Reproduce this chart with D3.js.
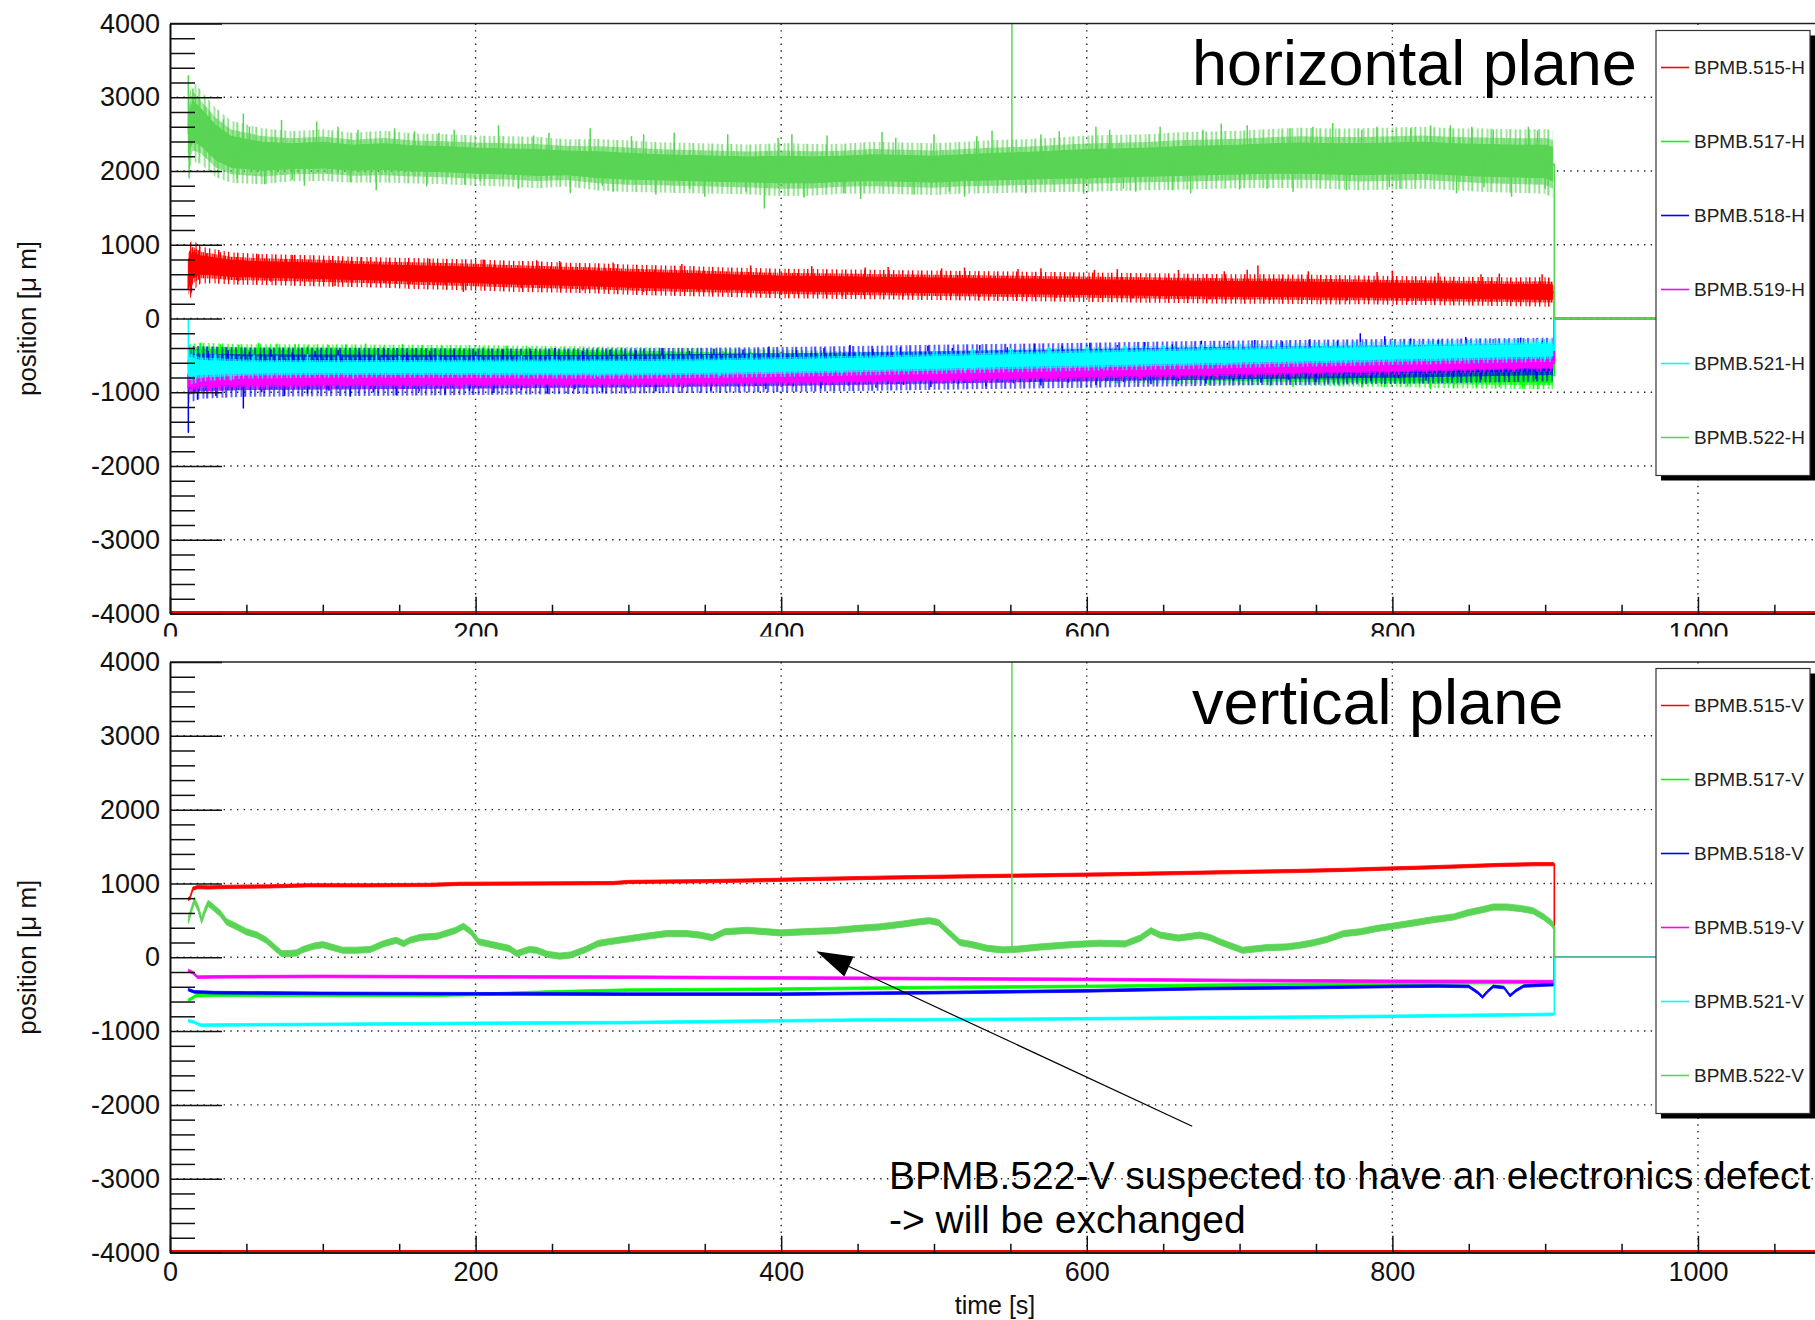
<!DOCTYPE html>
<html>
<head>
<meta charset="utf-8">
<script src="https://cdn.jsdelivr.net/npm/d3@7"></script>
<style>
  body { margin: 0; background: #fff; }
  svg { display: block; }
  text { font-family: "Liberation Sans", Arial, Helvetica, sans-serif; }
</style>
</head>
<body>
<svg id="chart" width="1815" height="1320"></svg>
<script>
// ---------------- labels ----------------
const namesH = ["BPMB.515-H", "BPMB.517-H", "BPMB.518-H", "BPMB.519-H", "BPMB.521-H", "BPMB.522-H"];
const namesV = ["BPMB.515-V", "BPMB.517-V", "BPMB.518-V", "BPMB.519-V", "BPMB.521-V", "BPMB.522-V"];
const colors = ["#ff0000", "#00ff00", "#0000ff", "#ff00ff", "#00ffff", "#59d454"];
const yTickValues = [4000, 3000, 2000, 1000, 0, -1000, -2000, -3000, -4000];
const yGridValues = [3000, 2000, 1000, 0, -1000, -2000, -3000];
const xTickValues = [0, 200, 400, 600, 800, 1000];
const xGridValues = [200, 400, 600, 800, 1000];

// all monitors fall back to 0 when the run stops
const stopTime = 906;
const tailTime = 1100;

// ---------------- horizontal plane (noisy: band envelopes + excursions) ----------------
const tH = [12, 15, 20, 30, 40, 60, 80, 100, 120, 140, 160, 180, 200, 220, 240, 260, 280, 300, 320, 340,
  360, 380, 400, 420, 440, 460, 480, 500, 520, 540, 560, 580, 600, 620, 640, 660, 680, 700, 720, 740,
  760, 780, 800, 820, 840, 860, 880, 900, 905];

const h515lo = [400, 550, 600, 590, 570, 560, 550, 540, 530, 520, 505, 495, 485, 470, 460, 450, 440, 425, 415, 405,
  395, 385, 375, 370, 365, 360, 355, 350, 345, 340, 335, 330, 325, 320, 315, 310, 305, 300, 300, 295,
  290, 290, 285, 280, 275, 270, 265, 260, 260];
const h515hi = [800, 900, 850, 820, 790, 770, 760, 750, 735, 725, 715, 705, 695, 680, 670, 655, 645, 630, 620, 610,
  595, 585, 575, 570, 565, 560, 555, 550, 545, 540, 535, 530, 525, 520, 515, 510, 505, 500, 500, 495,
  490, 485, 480, 475, 470, 465, 460, 460, 455];

const h522lo = [2250, 2400, 2350, 2150, 2050, 2010, 2030, 2040, 2010, 2020, 2000, 1990, 1970, 1960, 1940, 1950, 1910, 1890, 1880, 1870,
  1860, 1850, 1840, 1840, 1860, 1870, 1860, 1850, 1870, 1880, 1890, 1900, 1910, 1920, 1930, 1940, 1950, 1960, 1970, 1970,
  1960, 1950, 1960, 1970, 1950, 1930, 1920, 1910, 1860];
const h522hi = [2750, 2950, 2850, 2620, 2470, 2390, 2370, 2390, 2350, 2370, 2340, 2330, 2310, 2300, 2290, 2270, 2260, 2240, 2220, 2210,
  2200, 2190, 2200, 2190, 2200, 2220, 2210, 2200, 2220, 2240, 2250, 2270, 2290, 2300, 2310, 2330, 2340, 2350, 2370, 2380,
  2370, 2370, 2380, 2390, 2370, 2360, 2350, 2350, 2320];

const tL = [12, 20, 50, 100, 150, 200, 250, 300, 350, 400, 450, 500, 550, 600, 650, 700, 750, 800, 850, 900, 905];

const h517lo = [-590, -600, -590, -590, -595, -600, -620, -640, -660, -685, -705, -730, -750, -770, -790, -810, -825, -840, -855, -865, -865];
const h517hi = [-430, -420, -430, -430, -435, -440, -455, -470, -490, -510, -530, -550, -570, -590, -610, -630, -645, -660, -670, -680, -680];

const h518lo = [-950, -910, -895, -890, -885, -880, -872, -865, -855, -845, -830, -815, -800, -785, -770, -755, -745, -735, -720, -705, -705];
const h518hi = [-560, -555, -560, -560, -562, -565, -562, -558, -550, -540, -525, -510, -495, -480, -465, -450, -440, -430, -420, -410, -410];

const h519lo = [-930, -910, -895, -890, -890, -885, -880, -875, -865, -855, -840, -825, -805, -785, -765, -745, -725, -705, -680, -660, -660];
const h519hi = [-720, -740, -755, -760, -760, -755, -750, -745, -735, -725, -710, -695, -675, -655, -635, -615, -600, -585, -565, -550, -550];

const h521lo = [-780, -760, -740, -735, -735, -735, -738, -740, -730, -715, -695, -675, -650, -630, -610, -590, -570, -550, -530, -510, -510];
const h521hi = [-520, -570, -590, -595, -595, -590, -588, -585, -575, -560, -540, -518, -492, -470, -450, -430, -410, -392, -372, -352, -352];

// single-sample excursions [time, value]
const x515H = [[12, 400], [13, 920], [14, 350], [16, 930], [24, 880], [33, 900], [45, 510], [58, 870], [66, 500], [80, 860], [94, 490],
  [108, 440], [125, 830], [140, 480], [157, 470], [170, 810], [180, 460], [192, 360], [205, 800], [218, 430], [230, 410], [240, 790],
  [255, 780], [270, 380], [290, 760], [300, 400], [310, 360], [335, 740], [345, 380], [355, 330], [380, 720], [392, 350], [400, 320],
  [420, 710], [440, 300], [455, 690], [470, 700], [480, 300], [505, 680], [520, 690], [530, 290], [555, 670], [570, 680], [580, 280],
  [605, 660], [620, 670], [630, 270], [645, 300], [660, 660], [680, 260], [690, 640], [705, 660], [712, 720], [720, 250], [745, 640],
  [760, 270], [770, 240], [790, 630], [800, 650], [810, 230], [830, 620], [850, 220], [858, 600], [870, 610], [880, 250], [890, 220], [898, 600]];

const x517H = [[20, -330], [33, -350], [45, -360], [58, -330], [70, -340], [82, -350], [90, -370], [104, -360], [115, -350], [128, -340],
  [140, -380], [152, -350], [165, -360], [178, -370], [190, -390], [205, -380], [220, -370], [235, -390], [250, -400], [265, -410],
  [280, -390], [295, -420], [310, -420], [328, -440], [345, -430], [362, -440], [380, -450], [400, -460], [420, -470], [440, -480], [460, -490],
  [600, -850], [620, -880], [640, -870], [660, -890], [680, -900], [700, -890], [720, -920], [735, -930], [750, -900], [765, -920],
  [780, -940], [795, -930], [810, -920], [825, -960], [840, -950], [855, -930], [870, -930], [885, -950], [895, -960]];

const x518H = [[12, -1550], [14, -420], [18, -1100], [25, -440], [30, -1050], [38, -430], [48, -1220], [52, -450], [60, -1000], [66, -420],
  [75, -1050], [80, -460], [90, -1020], [95, -440], [104, -980], [110, -430], [118, -1060], [124, -450], [133, -1000], [140, -410],
  [148, -1040], [155, -460], [163, -990], [170, -440], [180, -1030], [186, -430], [196, -980], [200, -450], [212, -1010], [218, -420],
  [230, -970], [236, -440], [247, -1020], [252, -400], [265, -960], [270, -440], [283, -1000], [288, -420], [300, -950], [305, -430],
  [318, -990], [322, -400], [336, -940], [340, -440], [354, -980], [356, -410], [372, -930], [375, -420], [390, -960], [392, -380],
  [408, -920], [410, -430], [426, -950], [428, -400], [444, -910], [445, -360], [460, -410], [462, -940], [478, -390], [480, -900],
  [496, -370], [498, -930], [512, -400], [516, -890], [530, -360], [534, -920], [548, -390], [552, -880], [566, -340], [570, -910],
  [584, -370], [588, -870], [602, -330], [606, -900], [620, -360], [624, -860], [638, -320], [642, -890], [656, -350], [660, -850],
  [675, -300], [678, -880], [692, -330], [696, -840], [710, -290], [714, -870], [728, -310], [732, -830], [746, -280], [750, -860],
  [764, -300], [768, -820], [779, -200], [786, -850], [795, -240], [804, -810], [812, -270], [822, -840], [830, -290], [840, -800],
  [848, -250], [858, -830], [866, -280], [876, -790], [884, -260], [894, -820], [898, -300]];

const x519H = [[14, -640], [25, -990], [42, -970], [60, -960], [78, -940], [95, -950], [112, -970], [130, -960], [150, -950], [170, -940],
  [190, -960], [210, -950], [235, -940], [260, -930], [285, -940], [310, -920], [335, -930], [360, -910], [385, -900], [410, -900],
  [435, -890], [460, -880], [485, -870], [510, -860], [535, -860], [560, -850], [585, -840], [610, -830], [635, -820], [660, -810],
  [685, -800], [710, -790], [735, -780], [760, -770], [785, -760], [810, -750], [835, -740], [860, -730], [880, -720], [895, -720]];

const x521H = [[12, 0], [30, -480], [40, -840], [55, -490], [70, -500], [90, -480], [110, -500], [120, -820], [135, -490], [150, -510],
  [175, -500], [200, -510], [210, -800], [230, -500], [250, -510], [280, -790], [300, -500], [325, -490], [350, -490], [360, -780],
  [380, -480], [400, -470], [425, -460], [440, -750], [450, -450], [475, -430], [500, -420], [520, -720], [525, -410], [550, -400],
  [575, -390], [600, -380], [610, -680], [625, -370], [650, -360], [675, -350], [690, -640], [700, -340], [725, -330], [750, -320],
  [770, -610], [775, -310], [800, -300], [825, -300], [845, -580], [850, -290], [875, -280], [895, -280], [900, -560]];

const x522H = [[12, 3300], [12.5, 1900], [15, 3120], [26, 2750], [35, 2700], [44, 1900], [48, 2780], [52, 2600], [62, 1820], [73, 2690],
  [80, 1880], [88, 1800], [96, 2670], [110, 2600], [118, 1850], [123, 2560], [135, 1740], [147, 2580], [160, 2540], [168, 1790],
  [176, 2520], [186, 2560], [193, 1820], [203, 1860], [215, 2620], [228, 1760], [238, 2480], [248, 2520], [262, 1700], [275, 2580],
  [283, 1800], [290, 1720], [302, 2470], [310, 2500], [318, 1680], [330, 2520], [340, 1760], [350, 1650], [365, 2500], [377, 1720],
  [389, 1490], [398, 2450], [407, 2500], [415, 1640], [430, 2480], [441, 1700], [452, 1620], [466, 2530], [475, 2450], [487, 1680],
  [500, 2500], [510, 1720], [520, 1650], [528, 2470], [538, 2550], [551, 9000], [560, 1700], [570, 2500], [582, 2540], [598, 1690],
  [606, 2600], [615, 2560], [624, 1760], [632, 1720], [648, 2600], [656, 1740], [668, 1700], [676, 2560], [688, 2640], [700, 1750],
  [705, 2620], [718, 1760], [733, 2580], [735, 1720], [748, 2600], [761, 2650], [770, 1740], [780, 2560], [790, 2600], [798, 1780],
  [805, 1760], [812, 2580], [825, 2620], [838, 2620], [842, 1700], [852, 2600], [860, 1780], [866, 2560], [878, 1650], [889, 2600],
  [895, 2550], [900, 1760]];

// ---------------- vertical plane ([time, value]) ----------------
const v515 = [[12, 790], [13, 800], [15, 930], [18, 950], [25, 945], [40, 955], [65, 960], [90, 975], [130, 975], [170, 980], [190, 995],
  [250, 1000], [290, 1005], [300, 1020], [350, 1030], [380, 1040], [420, 1060], [470, 1080], [520, 1095], [570, 1110], [620, 1125],
  [674, 1145], [700, 1155], [740, 1170], [770, 1185], [795, 1200], [820, 1215], [849, 1235], [870, 1250], [892, 1260], [905.5, 1262]];
const v517 = [[12, -580], [14, -560], [17, -520], [30, -515], [100, -515], [170, -515], [200, -505], [250, -470], [300, -445], [380, -435],
  [450, -420], [500, -410], [600, -395], [674, -380], [750, -365], [800, -355], [850, -345], [900, -340], [905.5, -340]];
const v518 = [[12, -440], [16, -470], [30, -480], [100, -490], [200, -495], [300, -500], [400, -500], [500, -480], [600, -455], [674, -425],
  [750, -410], [800, -395], [830, -390], [850, -395], [856, -480], [859, -540], [862, -470], [866, -395], [873, -410], [877, -520],
  [881, -450], [886, -390], [900, -375], [905.5, -370]];
const v519 = [[12, -180], [15, -210], [18, -270], [30, -265], [100, -260], [200, -265], [300, -270], [400, -280], [500, -290], [600, -300],
  [700, -315], [800, -325], [900, -330], [905.5, -330]];
const v521 = [[12, -860], [16, -880], [20, -920], [50, -915], [100, -910], [200, -895], [300, -885], [380, -865], [450, -850], [550, -840],
  [674, -822], [800, -800], [900, -775], [905.5, -772]];
const v522 = [[12, 500], [14, 640], [16, 770], [18.5, 660], [20.7, 500], [23, 640], [25, 730], [27, 700], [33, 590], [37, 480], [44, 410],
  [50, 345], [57, 300], [63, 230], [68, 140], [73, 50], [78, 50], [83, 60], [87, 105], [94, 150], [100, 170], [107, 130], [113, 95],
  [122, 95], [131, 105], [140, 185], [148, 230], [153, 185], [157, 230], [164, 270], [175, 285], [187, 365], [192, 420], [197, 345],
  [202, 210], [212, 165], [222, 120], [227, 50], [235, 105], [240, 95], [247, 40], [255, 15], [262, 30], [272, 105], [280, 185],
  [287, 210], [302, 255], [312, 285], [325, 320], [338, 320], [347, 300], [355, 265], [363, 345], [378, 365], [400, 330], [420, 350],
  [434, 360], [450, 390], [464, 410], [480, 450], [490, 480], [497, 495], [503, 470], [510, 330], [517, 200], [525, 170], [535, 120],
  [545, 100], [551, 105], [555, 110], [570, 140], [590, 170], [608, 190], [625, 180], [635, 260], [642, 360],
  [648, 300], [660, 260], [674, 300], [681, 265], [687, 210], [696, 140], [702, 95], [718, 130], [731, 140], [740, 165], [748, 195],
  [757, 240], [768, 320], [779, 345], [790, 390], [800, 420], [814, 465], [827, 510], [840, 545], [849, 600], [859, 645], [866, 680],
  [875, 680], [884, 660], [892, 630], [899, 545], [904, 465], [905.5, 420]];
const v522Spike = [551, 9000];

// annotation (data units of the vertical plane)
const noteLines = ["BPMB.522-V suspected to have an electronics defect", "-> will be exchanged"];
const noteArrowFrom = [669, -2290];
const noteArrowTo = [423, 80];

// ---------------- layout ----------------
const W = 1815, H = 1320;
const svg = d3.select("#chart");
const defs = svg.append("defs");
const X = d3.scaleLinear().domain([0, 1076.6]).range([170, 1815]);
const FONT = '"Liberation Sans", Arial, Helvetica, sans-serif';

// hatch textures used for the sparse outer parts of the noisy bands
const denseStripes = [[0, 1.6], [2.6, 1.2], [4.5, 1.8], [7.3, 1.1], [9.2, 1.3]];
const sparseStripes = [[0, 1.3], [5.5, 1.1], [9, 1.5], [14.6, 1.2]];
colors.forEach((c, i) => {
  [["dense", 11, denseStripes], ["sparse", 19, sparseStripes]].forEach(([kind, w, stripes]) => {
    const pat = defs.append("pattern").attr("id", `${kind}-${i}`)
      .attr("patternUnits", "userSpaceOnUse").attr("width", w).attr("height", 10)
      .attr("patternTransform", `translate(${(i * 3.7) % w},0)`);
    stripes.forEach(([sx, sw]) => pat.append("rect").attr("x", sx).attr("y", 0).attr("width", sw).attr("height", 10).attr("fill", c));
  });
});

const panels = [
  { id: "ph", top: 23.5, bottom: 613.5, clipTop: 0, clipBottom: 636.5, names: namesH, title: "horizontal plane", legendTop: 30.5 },
  { id: "pv", top: 662, bottom: 1252.5, clipTop: 636.5, clipBottom: 1320, names: namesV, title: "vertical plane", legendTop: 668.5 }
];

panels.forEach(p => {
  p.Y = d3.scaleLinear().domain([-4000, 4000]).range([p.bottom, p.top]);
  defs.append("clipPath").attr("id", p.id + "-all").append("rect")
    .attr("x", 0).attr("y", p.clipTop).attr("width", W).attr("height", p.clipBottom - p.clipTop);
  defs.append("clipPath").attr("id", p.id + "-plot").append("rect")
    .attr("x", 170).attr("y", p.top).attr("width", W - 170).attr("height", p.bottom - p.top);
  p.g = svg.append("g").attr("clip-path", `url(#${p.id}-all)`);
  p.plot = p.g.append("g").attr("clip-path", `url(#${p.id}-plot)`);
});

// dotted grid
panels.forEach(p => {
  const { Y } = p;
  const grid = p.plot.append("g").attr("stroke", "#222").attr("stroke-width", 1.4).attr("stroke-dasharray", "1.4 5.3");
  grid.selectAll("line.h").data(yGridValues).join("line").attr("class", "h")
    .attr("x1", 170).attr("x2", W).attr("y1", d => Y(d)).attr("y2", d => Y(d));
  grid.selectAll("line.v").data(xGridValues).join("line").attr("class", "v")
    .attr("x1", d => X(d)).attr("x2", d => X(d)).attr("y1", p.top).attr("y2", p.bottom);
});

// noisy series: core band, hairy fringe, single excursions, fall-back tail
function drawBand(p, tGrid, lo, hi, spikes, idx) {
  const color = colors[idx];
  const rows = tGrid.map((t, i) => ({ t, lo: lo[i], hi: hi[i] }));
  const mid = d3.scaleLinear().domain(tGrid).range(rows.map(r => (r.lo + r.hi) / 2)).clamp(true);
  const g = p.plot.append("g");
  const band = k => d3.area().x(d => X(d.t))
    .y0(d => p.Y(d.lo - k * (d.hi - d.lo))).y1(d => p.Y(d.hi + k * (d.hi - d.lo)));
  g.append("path").datum(rows).attr("d", band(0.5)).attr("fill", `url(#sparse-${idx})`);
  g.append("path").datum(rows).attr("d", band(0.22)).attr("fill", `url(#dense-${idx})`);
  g.append("path").datum(rows).attr("d", band(0))
    .attr("fill", color).attr("stroke", color).attr("stroke-width", 1).attr("stroke-linejoin", "round");
  g.selectAll("line").data(spikes).join("line")
    .attr("x1", d => X(d[0])).attr("x2", d => X(d[0]))
    .attr("y1", d => p.Y(mid(d[0]))).attr("y2", d => p.Y(d[1]))
    .attr("stroke", color).attr("stroke-width", 1.5);
  const last = rows[rows.length - 1];
  const tail = [[last.t, (last.lo + last.hi) / 2], [stopTime, (last.lo + last.hi) / 2], [stopTime, 0], [tailTime, 0]];
  g.append("path").datum(tail)
    .attr("d", d3.line().x(d => X(d[0])).y(d => p.Y(d[1])))
    .attr("fill", "none").attr("stroke", color).attr("stroke-width", 1.6);
}

const ph = panels[0], pv = panels[1];
drawBand(ph, tH, h515lo, h515hi, x515H, 0);
drawBand(ph, tL, h517lo, h517hi, x517H, 1);
drawBand(ph, tL, h518lo, h518hi, x518H, 2);
drawBand(ph, tL, h519lo, h519hi, x519H, 3);
drawBand(ph, tL, h521lo, h521hi, x521H, 4);
drawBand(ph, tH, h522lo, h522hi, x522H, 5);

// quieter series: a trace with vertical jitter thickness, thin fall-back tail
function drawTrace(p, pts, idx, halfWidth, spike) {
  const color = colors[idx];
  const g = p.plot.append("g");
  g.append("path").datum(pts)
    .attr("d", d3.area().x(d => X(d[0])).y0(d => p.Y(d[1] - halfWidth)).y1(d => p.Y(d[1] + halfWidth)))
    .attr("fill", color).attr("stroke", color).attr("stroke-width", 0.8);
  const last = pts[pts.length - 1];
  g.append("path").datum([last, [stopTime, last[1]], [stopTime, 0], [tailTime, 0]])
    .attr("d", d3.line().x(d => X(d[0])).y(d => p.Y(d[1])))
    .attr("fill", "none").attr("stroke", color).attr("stroke-width", 1.6);
  if (spike) {
    const base = d3.scaleLinear().domain(pts.map(d => d[0])).range(pts.map(d => d[1]));
    g.append("line").attr("x1", X(spike[0])).attr("x2", X(spike[0]))
      .attr("y1", p.Y(base(spike[0]))).attr("y2", p.Y(spike[1]))
      .attr("stroke", color).attr("stroke-width", 1.5);
  }
}
drawTrace(pv, v515, 0, 22);
drawTrace(pv, v517, 1, 18);
drawTrace(pv, v518, 2, 18);
drawTrace(pv, v519, 3, 18);
drawTrace(pv, v521, 4, 18);
drawTrace(pv, v522, 5, 42, v522Spike);

// axes on top of the data
panels.forEach(p => {
  const { g, Y } = p;
  g.append("line").attr("x1", 170).attr("x2", W).attr("y1", p.top).attr("y2", p.top)
    .attr("stroke", "#222").attr("stroke-width", 1.6);
  // red trace along the lower edge
  p.plot.append("line").attr("x1", 170).attr("x2", W).attr("y1", p.bottom - 1.2).attr("y2", p.bottom - 1.2)
    .attr("stroke", "#ff0000").attr("stroke-width", 2.4);

  const yMinor = d3.range(-4000, 4001, 200).filter(v => v % 1000 !== 0);
  const xMinor = d3.range(0, 1076, 50).filter(v => v % 200 !== 0);

  const yMaj = g.append("g").attr("transform", "translate(170,0)")
    .call(d3.axisLeft(Y).tickValues(yTickValues).tickSizeInner(-52).tickSizeOuter(0).tickPadding(10).tickFormat(d => String(d)));
  g.append("g").attr("transform", "translate(170,0)")
    .call(d3.axisLeft(Y).tickValues(yMinor).tickSizeInner(-25).tickSizeOuter(0).tickFormat(""));
  const xMaj = g.append("g").attr("transform", `translate(0,${p.bottom})`)
    .call(d3.axisBottom(X).tickValues(xTickValues).tickSizeInner(-16.7).tickSizeOuter(0).tickPadding(9).tickFormat(d => String(d)));
  g.append("g").attr("transform", `translate(0,${p.bottom})`)
    .call(d3.axisBottom(X).tickValues(xMinor).tickSizeInner(-8.7).tickSizeOuter(0).tickFormat(""));

  g.selectAll(".domain").attr("stroke", "#111").attr("stroke-width", 1.6);
  g.selectAll(".tick line").attr("stroke", "#111").attr("stroke-width", 1.5);
  [yMaj, xMaj].forEach(a => a.attr("font-family", FONT).attr("font-size", 27)
    .selectAll("text").attr("fill", "#111"));

  g.append("text").attr("transform", `translate(36,${(p.top + p.bottom) / 2}) rotate(-90)`)
    .attr("text-anchor", "middle").attr("font-size", 26).attr("fill", "#111")
    .text("position [\u03bc m]");

  g.append("text").attr("x", 1192).attr("y", p.top + 61.5)
    .attr("font-size", 63).attr("fill", "#000").text(p.title);

  // legend
  const lx = 1656, lw = 154, lh = 445;
  const leg = g.append("g");
  leg.append("rect").attr("x", lx + 5).attr("y", p.legendTop + 5).attr("width", lw).attr("height", lh).attr("fill", "#000");
  leg.append("rect").attr("x", lx).attr("y", p.legendTop).attr("width", lw).attr("height", lh)
    .attr("fill", "#fff").attr("stroke", "#333").attr("stroke-width", 1.2);
  const items = leg.selectAll("g.item").data(p.names).join("g").attr("class", "item")
    .attr("transform", (d, i) => `translate(0,${p.legendTop + 37 + 74 * i})`);
  items.append("line").attr("x1", lx + 5).attr("x2", lx + 33).attr("y1", 0).attr("y2", 0)
    .attr("stroke", (d, i) => colors[i]).attr("stroke-width", 1.6);
  items.append("text").attr("x", lx + 38).attr("y", 0).attr("dy", "0.36em")
    .attr("font-size", 19).attr("fill", "#222").text(d => d);
});

pv.g.append("text").attr("x", 995).attr("y", 1314).attr("text-anchor", "middle")
  .attr("font-size", 25).attr("fill", "#111").text("time [s]");

// annotation arrow and note
const ax0 = X(noteArrowFrom[0]), ay0 = pv.Y(noteArrowFrom[1]);
const ax1 = X(noteArrowTo[0]), ay1 = pv.Y(noteArrowTo[1]);
const ang = Math.atan2(ay1 - ay0, ax1 - ax0);
const headLen = 36, headHalf = 11;
const bx = ax1 - headLen * Math.cos(ang), by = ay1 - headLen * Math.sin(ang);
pv.g.append("line").attr("x1", ax0).attr("y1", ay0).attr("x2", bx).attr("y2", by)
  .attr("stroke", "#000").attr("stroke-width", 1.2);
pv.g.append("path")
  .attr("d", `M${ax1},${ay1}L${bx - headHalf * Math.sin(ang)},${by + headHalf * Math.cos(ang)}L${bx + headHalf * Math.sin(ang)},${by - headHalf * Math.cos(ang)}Z`)
  .attr("fill", "#000");
pv.g.selectAll("text.note").data(noteLines).join("text").attr("class", "note")
  .attr("x", 889).attr("y", (d, i) => 1189 + 44 * i)
  .attr("font-size", 39).attr("fill", "#000").text(d => d);
</script>
</body>
</html>
